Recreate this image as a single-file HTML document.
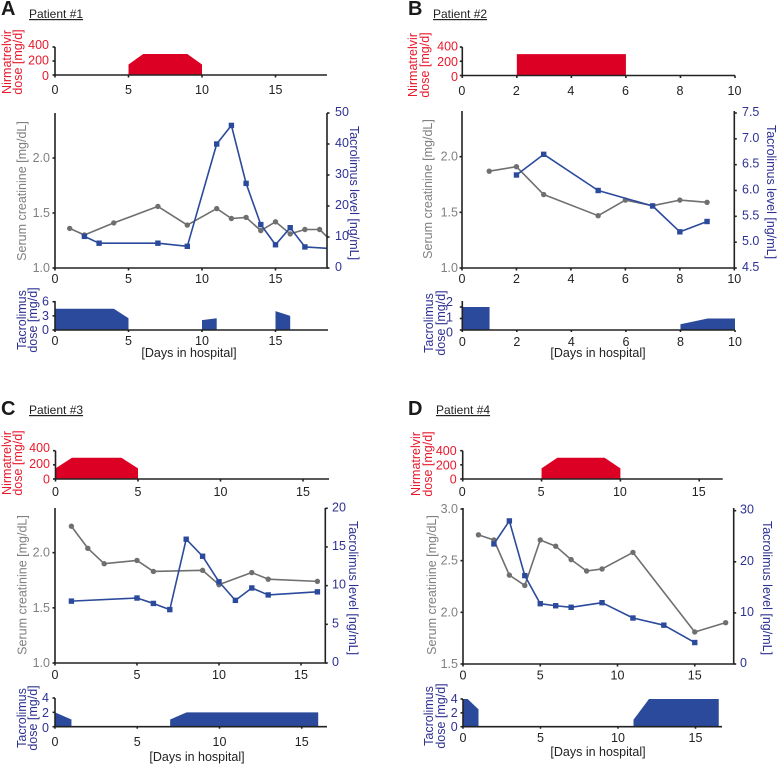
<!DOCTYPE html>
<html>
<head>
<meta charset="utf-8">
<title>Nirmatrelvir and tacrolimus by patient</title>
<style>
html,body{margin:0;padding:0;background:#fff;}
svg{display:block;font-family:"Liberation Sans",Arial,sans-serif;font-size:12.5px;}
.c{text-anchor:middle;dominant-baseline:central;}
.red{fill:#e8192c;}
.blue{fill:#2e3192;}
.gray{fill:#808080;}
.dark{fill:#222;}
.letter{font-size:20px;font-weight:bold;fill:#1a1a1a;}
.pt{font-size:12px;fill:#222;text-decoration:underline;}
</style>
</head>
<body>
<svg id="figure" width="777" height="764" viewBox="0 0 777 764" xmlns="http://www.w3.org/2000/svg">
<rect width="777" height="764" fill="#fff"/>

<text class="letter" x="1" y="15">A</text>
<text class="pt" x="29" y="18">Patient #1</text>
<text class="c red" transform="translate(7,62) rotate(-90)">Nirmatrelvir</text>
<text class="c red" transform="translate(18,62) rotate(-90)">dose [mg/d]</text>
<text class="c gray" transform="translate(22,191) rotate(-90)">Serum creatinine [mg/dL]</text>
<text class="c blue" transform="translate(354,193) rotate(90)">Tacrolimus level [ng/mL]</text>
<text class="c blue" transform="translate(22,320) rotate(-90)">Tacrolimus</text>
<text class="c blue" transform="translate(33,320) rotate(-90)">dose [mg/d]</text>
<text class="c dark" x="189" y="353">[Days in hospital]</text>

<text class="letter" x="408" y="15">B</text>
<text class="pt" x="433" y="18">Patient #2</text>
<text class="c red" transform="translate(413,65) rotate(-90)">Nirmatrelvir</text>
<text class="c red" transform="translate(425,65) rotate(-90)">dose [mg/d]</text>
<text class="c gray" transform="translate(428,189) rotate(-90)">Serum creatinine [mg/dL]</text>
<text class="c blue" transform="translate(771,192) rotate(90)">Tacrolimus level [ng/mL]</text>
<text class="c blue" transform="translate(429,323) rotate(-90)">Tacrolimus</text>
<text class="c blue" transform="translate(441,323) rotate(-90)">dose [mg/d]</text>
<text class="c dark" x="598" y="353">[Days in hospital]</text>

<text class="letter" x="1" y="415">C</text>
<text class="pt" x="29" y="414">Patient #3</text>
<text class="c red" transform="translate(7,463) rotate(-90)">Nirmatrelvir</text>
<text class="c red" transform="translate(18,463) rotate(-90)">dose [mg/d]</text>
<text class="c gray" transform="translate(22.5,585) rotate(-90)">Serum creatinine [mg/dL]</text>
<text class="c blue" transform="translate(353,588) rotate(90)">Tacrolimus level [ng/mL]</text>
<text class="c blue" transform="translate(22,718) rotate(-90)">Tacrolimus</text>
<text class="c blue" transform="translate(33,718) rotate(-90)">dose [mg/d]</text>
<text class="c dark" x="197" y="757">[Days in hospital]</text>

<text class="letter" x="408" y="415">D</text>
<text class="pt" x="436" y="414">Patient #4</text>
<text class="c red" transform="translate(416,464) rotate(-90)">Nirmatrelvir</text>
<text class="c red" transform="translate(428,464) rotate(-90)">dose [mg/d]</text>
<text class="c gray" transform="translate(432,585) rotate(-90)">Serum creatinine [mg/dL]</text>
<text class="c blue" transform="translate(767,588) rotate(90)">Tacrolimus level [ng/mL]</text>
<text class="c blue" transform="translate(429,716) rotate(-90)">Tacrolimus</text>
<text class="c blue" transform="translate(441,716) rotate(-90)">dose [mg/d]</text>
<text class="c dark" x="598" y="752">[Days in hospital]</text>
</svg>

<script>
// ---- Data ----
const nirmaTicks = [0, 200, 400];

// Patient 1
const aXTicks = [0, 5, 10, 15];
const aCreatTicks = [1.0, 1.5, 2.0];
const aLevelTicks = [0, 10, 20, 30, 40, 50];
const aDoseTicks = [0, 3, 6];
const aNirmaDays = [5, 5, 6, 9, 10, 10];
const aNirmaDose = [0, 150, 300, 300, 150, 0];
const aCreatDays = [1, 2, 4, 7, 9, 11, 12, 13, 14, 15, 16, 17, 18, 19];
const aCreat = [1.36, 1.30, 1.41, 1.56, 1.39, 1.54, 1.45, 1.46, 1.34, 1.42, 1.31, 1.35, 1.35, 1.22];
const aLevelDays = [2, 3, 7, 9, 11, 12, 13, 14, 15, 16, 17, 19];
const aLevel = [10.2, 8, 8, 7, 40, 46, 27.3, 14, 7.5, 13, 6.8, 6.2];
const aDoseDays = [0, 4, 5, null, 10, 11, null, 15, 16];
const aDose = [4.5, 4.5, 2.5, null, 2.1, 2.5, null, 4, 3];

// Patient 2
const bXTicks = [0, 2, 4, 6, 8, 10];
const bCreatTicks = [1.0, 1.5, 2.0];
const bLevelTicks = [4.5, 5.0, 5.5, 6.0, 6.5, 7.0, 7.5];
const bDoseTicks = [0, 1, 2];
const bNirmaDays = [2, 2, 6, 6];
const bNirmaDose = [0, 300, 300, 0];
const bCreatDays = [1, 2, 3, 5, 6, 7, 8, 9];
const bCreat = [1.87, 1.91, 1.66, 1.47, 1.61, 1.56, 1.61, 1.59];
const bLevelDays = [2, 3, 5, 7, 8, 9];
const bLevel = [6.3, 6.7, 6.0, 5.7, 5.2, 5.4];
const bDoseDays = [0, 1, null, 8, 9, 10];
const bDose = [2, 2, null, 0.5, 1, 1];

// Patient 3
const cXTicks = [0, 5, 10, 15];
const cCreatTicks = [1.0, 1.5, 2.0];
const cLevelTicks = [0, 5, 10, 15, 20];
const cDoseTicks = [0, 2, 4];
const cNirmaDays = [0, 0, 1, 4, 5, 5];
const cNirmaDose = [0, 150, 300, 300, 150, 0];
const cCreatDays = [1, 2, 3, 5, 6, 9, 10, 12, 13, 16];
const cCreat = [2.24, 2.04, 1.90, 1.93, 1.83, 1.84, 1.71, 1.82, 1.76, 1.74];
const cLevelDays = [1, 5, 6, 7, 8, 9, 10, 11, 12, 13, 16];
const cLevel = [8, 8.4, 7.7, 6.9, 16, 13.8, 10.5, 8.1, 9.7, 8.8, 9.2];
const cDoseDays = [0, 1, null, 7, 8, 16];
const cDose = [2, 1, null, 1, 2, 2];

// Patient 4
const dXTicks = [0, 5, 10, 15];
const dCreatTicks = [1.5, 2.0, 2.5, 3.0];
const dLevelTicks = [0, 10, 20, 30];
const dDoseTicks = [0, 2, 4];
const dNirmaDays = [5, 5, 6, 9, 10, 10];
const dNirmaDose = [0, 150, 300, 300, 150, 0];
const dCreatDays = [1, 2, 3, 4, 5, 6, 7, 8, 9, 11, 15, 17];
const dCreat = [2.75, 2.70, 2.36, 2.26, 2.70, 2.64, 2.51, 2.40, 2.42, 2.58, 1.81, 1.90];
const dLevelDays = [2, 3, 4, 5, 6, 7, 9, 11, 13, 15];
const dLevel = [23.5, 28, 17.3, 11.8, 11.4, 11.1, 12, 9, 7.6, 4.2];
const dDoseDays = [0, 0.3, 1, null, 11, 12, 16.5];
const dDose = [4, 4, 2.5, null, 1, 4, 4];

// ---- Layout (axis geometry, separate from the data) ----
const layouts = {
  a: {top:{x0:55,x10:202,xEnd:327,y0:75,y400:47,lx:49,ly:90,lab0:76,lab400:45},
      mid:{x0:55,x10:202,xR:327,yTop:113,yBot:268,lv0:1.0,ly0:268,lv1:2.0,ly1:158,rv0:0,ry0:268,rv1:50,ry1:113,lx:50,rx:335,xly:279},
      bot:{x0:55,x10:202,xEnd:328,y0:330,yTop:301,v1:6,y1:301.7,lx:49,xly:341,lab0:330,labV:6,labY:301.7}},
  b: {top:{x0:462.3,x10:735,xEnd:735,y0:75.5,y400:47,lx:458,ly:91,lab0:77,lab400:46.5},
      mid:{x0:462,x10:734.3,xR:734.3,yTop:111,yBot:268,lv0:1.0,ly0:268,lv1:2.0,ly1:156.7,rv0:4.5,ry0:268,rv1:7.5,ry1:113,lx:458,rx:742,xly:279},
      bot:{x0:462.3,x10:735,xEnd:735,y0:330,yTop:301,v1:2,y1:307,lx:453,xly:342,lab0:332.7,labV:2,labY:302}},
  c: {top:{x0:55.5,x10:220.5,xEnd:329,y0:479,y400:450.7,lx:50,ly:492,lab0:479.5,lab400:448},
      mid:{x0:55,x10:219,xR:325.3,yTop:508,yBot:663,lv0:1.0,ly0:663,lv1:2.0,ly1:552.7,rv0:0,ry0:663,rv1:20,ry1:508.3,lx:50,rx:332,xly:675},
      bot:{x0:55,x10:219.5,xEnd:327,y0:726.7,yTop:698,v1:4,y1:698,lx:49,xly:742,lab0:728,labV:4,labY:698}},
  d: {top:{x0:462.7,x10:620.4,xEnd:722.7,y0:479,y400:450.7,lx:456.7,ly:492,lab0:479.5,lab400:451},
      mid:{x0:463,x10:617.5,xR:733.7,yTop:508,yBot:664,lv0:1.5,ly0:664,lv1:3.0,ly1:509,rv0:0,ry0:664,rv1:30,ry1:510.7,lx:458,rx:740,xly:675.7},
      bot:{x0:463,x10:618,xEnd:722,y0:726.7,yTop:699,v1:4,y1:699,lx:457.7,xly:738,lab0:727,labV:4,labY:699}}
};

// ---- Drawing ----
const NS = 'http://www.w3.org/2000/svg';
const svg = document.getElementById('figure');
const INK = '#222', RED = '#dc0024', BLUE = '#2b4a9b', GRAY = '#6f6f6f';

function mk(tag, props, parent) {
  const el = document.createElementNS(NS, tag);
  for (const k in props) el.setAttribute(k, props[k]);
  (parent || svg).appendChild(el);
  return el;
}
function linear(v0, p0, v1, p1) {
  return function (v) { return p0 + (v - v0) * (p1 - p0) / (v1 - v0); };
}
function axisLine(x1, y1, x2, y2, name, w) {
  const el = mk('line', {x1: x1, y1: y1, x2: x2, y2: y2, stroke: INK, 'stroke-width': w || 1.6});
  
  
  return el;
}
function tickLabel(x, y, str, anchor, cls, name) {
  const el = mk('text', {x: x, y: y, 'text-anchor': anchor, 'dominant-baseline': 'central', class: cls});
  el.textContent = str;
  
  
  return el;
}
function area(days, vals, sx, sy, fill, name) {
  let seg = [];
  const flush = function () {
    if (!seg.length) return;
    const base = sy(0);
    const pts = [seg[0][0] + ',' + base].concat(seg.map(function (p) { return p[0] + ',' + p[1]; }));
    pts.push(seg[seg.length - 1][0] + ',' + base);
    const el = mk('polygon', {points: pts.join(' '), fill: fill});
    
    
    seg = [];
  };
  days.forEach(function (d, i) {
    if (d === null) flush();
    else seg.push([sx(d), sy(vals[i])]);
  });
  flush();
}
function series(days, vals, sx, sy, color, kind, clip, name) {
  const g = mk('g', {'clip-path': 'url(#' + clip + ')'});
  
  
  const line = mk('polyline', {
    points: days.map(function (d, i) { return sx(d) + ',' + sy(vals[i]); }).join(' '),
    fill: 'none', stroke: color, 'stroke-width': 1.6, 'stroke-linejoin': 'round'
  }, g);
  
  
  days.forEach(function (d, i) {
    const m = kind === 'circle'
      ? mk('circle', {cx: sx(d), cy: sy(vals[i]), r: 2.7, fill: color}, g)
      : mk('rect', {x: sx(d) - 2.7, y: sy(vals[i]) - 2.7, width: 5.4, height: 5.4, fill: color}, g);
    
    
  });
}

function drawPanel(id, xTicks, creatTicks, levelTicks, doseTicks, nirmaDays, nirmaDose, creatDays, creat, levelDays, level, doseDays, dose) {
  const L = layouts[id], T = L.top, M = L.mid, B = L.bot;

  // top: nirmatrelvir dose
  const tx = linear(0, T.x0, 10, T.x10);
  const ty = linear(0, T.y0, 400, T.y400);
  const tl = linear(0, T.lab0, 400, T.lab400);
  area(nirmaDays, nirmaDose, tx, ty, RED, 'nirmatrelvir-dose-area-' + id);
  axisLine(T.x0, T.y400, T.x0, T.y0, 'nirmatrelvir-y-axis-' + id);
  axisLine(T.x0 - 1, T.y0, T.xEnd, T.y0, 'nirmatrelvir-x-axis-' + id);
  nirmaTicks.forEach(function (v) {
    axisLine(T.x0 - 2.5, ty(v), T.x0, ty(v), 'nirmatrelvir-y-tick-' + id);
    tickLabel(T.lx, tl(v), String(v), 'end', 'red', 'nirmatrelvir-y-tick-label-' + id);
  });
  xTicks.forEach(function (v) {
    axisLine(tx(v), T.y0, tx(v), T.y0 + 2.5, 'nirmatrelvir-x-tick-' + id);
    tickLabel(tx(v) - (id === 'b' || id === 'd' ? 0.5 : 0), T.ly, String(v), 'middle', 'dark', 'nirmatrelvir-x-tick-label-' + id);
  });

  // middle: creatinine and tacrolimus level
  const mx = linear(0, M.x0, 10, M.x10);
  const my = linear(M.lv0, M.ly0, M.lv1, M.ly1);
  const ry = linear(M.rv0, M.ry0, M.rv1, M.ry1);
  const clip = mk('clipPath', {id: 'clip-' + id});
  mk('rect', {x: M.x0, y: M.yTop - 5, width: M.xR - M.x0, height: M.yBot - M.yTop + 10}, clip);
  series(creatDays, creat, mx, my, GRAY, 'circle', 'clip-' + id, 'creatinine-' + id);
  series(levelDays, level, mx, ry, BLUE, 'square', 'clip-' + id, 'tacrolimus-level-' + id);
  axisLine(M.x0, M.yTop, M.x0, M.yBot, 'creatinine-y-axis-' + id);
  axisLine(M.xR, M.yTop, M.xR, M.yBot, 'tacrolimus-level-y-axis-' + id);
  axisLine(M.x0 - 1, M.yBot, M.xR + 1, M.yBot, 'days-x-axis-' + id);
  creatTicks.forEach(function (v) {
    axisLine(M.x0 - 2.5, my(v), M.x0, my(v), 'creatinine-y-tick-' + id);
    tickLabel(M.lx, my(v), v.toFixed(1), 'end', 'gray', 'creatinine-y-tick-label-' + id);
  });
  levelTicks.forEach(function (v) {
    axisLine(M.xR, ry(v), M.xR + 2.5, ry(v), 'tacrolimus-level-y-tick-' + id);
    tickLabel(M.rx, ry(v) - 1, id === 'b' ? v.toFixed(1) : String(v), 'start', 'blue', 'tacrolimus-level-y-tick-label-' + id);
  });
  xTicks.forEach(function (v) {
    axisLine(mx(v), M.yBot, mx(v), M.yBot + 2.5, 'days-x-tick-' + id);
    tickLabel(mx(v), M.xly, String(v), 'middle', 'dark', 'days-x-tick-label-' + id);
  });

  // bottom: tacrolimus dose
  const bx = linear(0, B.x0, 10, B.x10);
  const by = linear(0, B.y0, B.v1, B.y1);
  const bl = linear(0, B.lab0, B.labV, B.labY);
  area(doseDays, dose, bx, by, BLUE, 'tacrolimus-dose-area-' + id);
  axisLine(B.x0, B.yTop, B.x0, B.y0, 'tacrolimus-dose-y-axis-' + id);
  axisLine(B.x0 - 1, B.y0, B.xEnd, B.y0, 'tacrolimus-dose-x-axis-' + id);
  doseTicks.forEach(function (v) {
    axisLine(B.x0 - 2.5, by(v), B.x0, by(v), 'tacrolimus-dose-y-tick-' + id);
    tickLabel(B.lx, bl(v), String(v), 'end', 'blue', 'tacrolimus-dose-y-tick-label-' + id);
  });
  xTicks.forEach(function (v) {
    axisLine(bx(v), B.y0, bx(v), B.y0 + 2, 'tacrolimus-dose-x-tick-' + id);
    tickLabel(bx(v), B.xly, String(v), 'middle', 'dark', 'tacrolimus-dose-x-tick-label-' + id);
  });
}

drawPanel('a', aXTicks, aCreatTicks, aLevelTicks, aDoseTicks, aNirmaDays, aNirmaDose, aCreatDays, aCreat, aLevelDays, aLevel, aDoseDays, aDose);
drawPanel('b', bXTicks, bCreatTicks, bLevelTicks, bDoseTicks, bNirmaDays, bNirmaDose, bCreatDays, bCreat, bLevelDays, bLevel, bDoseDays, bDose);
drawPanel('c', cXTicks, cCreatTicks, cLevelTicks, cDoseTicks, cNirmaDays, cNirmaDose, cCreatDays, cCreat, cLevelDays, cLevel, cDoseDays, cDose);
drawPanel('d', dXTicks, dCreatTicks, dLevelTicks, dDoseTicks, dNirmaDays, dNirmaDose, dCreatDays, dCreat, dLevelDays, dLevel, dDoseDays, dDose);
</script>
</body>
</html>
